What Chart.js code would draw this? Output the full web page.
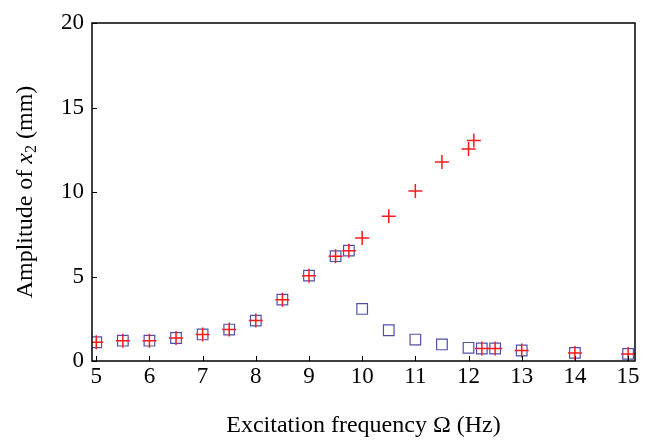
<!DOCTYPE html>
<html lang="en">
<head>
    <meta charset="UTF-8">
    <title>Amplitude of x2</title>
    <script src="https://cdn.jsdelivr.net/npm/chart.js"></script>
    <style>
        html, body { margin: 0; padding: 0; background: #fff; }
        #chartContainer { width: 652px; height: 440px; }
    </style>
</head>
<body>

<div id="chartContainer">
    <canvas id="ampChart"></canvas>
</div>

<script type="text/javascript">
    // frequencies (Hz) and amplitudes (mm)
    var blueFreq = [5, 5.5, 6, 6.5, 7, 7.5, 8, 8.5, 9, 9.5, 9.75, 10, 10.5, 11, 11.5, 12, 12.25, 12.5, 13, 14, 15];
    var blueAmp  = [1.11, 1.2, 1.2, 1.36, 1.57, 1.86, 2.39, 3.63, 5.05, 6.2, 6.53, 3.08, 1.82, 1.27, 0.98, 0.78, 0.74, 0.74, 0.62, 0.48, 0.42];
    var redFreq  = [5, 5.5, 6, 6.5, 7, 7.5, 8, 8.5, 9, 9.5, 9.75, 10, 10.5, 11, 11.5, 12, 12.1, 12.25, 12.5, 13, 14, 15];
    var redAmp   = [1.11, 1.2, 1.2, 1.36, 1.57, 1.86, 2.39, 3.63, 5.05, 6.2, 6.53, 7.28, 8.56, 10.06, 11.77, 12.54, 13.05, 0.74, 0.74, 0.62, 0.48, 0.42];
    var xTicks = [5, 6, 7, 8, 9, 10, 11, 12, 13, 14, 15];
    var yTicks = [0, 5, 10, 15, 20];

    var serif = 'Liberation Serif';

    function toPoints(xs, ys) {
        return xs.map(function (x, i) { return { x: x, y: ys[i] }; });
    }

    // frame box, inward tick marks and the y title (italic x with subscript)
    var framePlugin = {
        id: 'frame',
        afterDatasetsDraw: function (chart) {
            var ctx = chart.ctx;
            var a = chart.chartArea;
            var xs = chart.scales.x, ys = chart.scales.y;
            ctx.save();
            ctx.strokeStyle = '#000';
            ctx.lineWidth = 1.5;
            ctx.strokeRect(a.left, a.top, a.right - a.left, a.bottom - a.top);
            ctx.lineWidth = 1;
            ctx.beginPath();
            xTicks.forEach(function (v) {
                var px = Math.round(xs.getPixelForValue(v)) + 0.5;
                ctx.moveTo(px, a.bottom);
                ctx.lineTo(px, a.bottom - 5);
            });
            yTicks.forEach(function (v) {
                var py = Math.round(ys.getPixelForValue(v)) + 0.5;
                ctx.moveTo(a.left, py);
                ctx.lineTo(a.left + 5, py);
            });
            ctx.stroke();
            ctx.restore();
        },
        afterDraw: function (chart) {
            var ctx = chart.ctx;
            var a = chart.chartArea;
            var parts = [
                { t: 'Amplitude of ', f: '24px ' + serif, dy: 0 },
                { t: 'x', f: 'italic 24px ' + serif, dy: 0 },
                { t: '2', f: '16px ' + serif, dy: 6 },
                { t: ' (mm)', f: '24px ' + serif, dy: 0 }
            ];
            ctx.save();
            var total = 0;
            parts.forEach(function (p) { ctx.font = p.f; p.w = ctx.measureText(p.t).width; total += p.w; });
            ctx.translate(26, (a.top + a.bottom) / 2);
            ctx.rotate(-Math.PI / 2);
            ctx.fillStyle = '#000';
            ctx.textBaseline = 'middle';
            var x = -total / 2;
            parts.forEach(function (p) {
                ctx.font = p.f;
                ctx.fillText(p.t, x, p.dy);
                x += p.w;
            });
            ctx.restore();
        }
    };

    new Chart(document.getElementById('ampChart').getContext('2d'), {
        type: 'scatter',
        data: {
            datasets: [{
                label: 'sweep up',
                data: toPoints(redFreq, redAmp),
                pointStyle: 'cross',
                pointRadius: 7,
                pointBorderWidth: 1.5,
                borderColor: '#ff1a1a',
                backgroundColor: '#ff1a1a'
            }, {
                label: 'sweep down',
                data: toPoints(blueFreq, blueAmp),
                pointStyle: 'rect',
                pointRadius: 7.5,
                pointBorderWidth: 1.2,
                borderColor: '#5050ac',
                backgroundColor: 'rgba(0,0,0,0)'
            }]
        },
        options: {
            responsive: true,
            maintainAspectRatio: false,
            animation: false,
            events: [],
            layout: { padding: { left: 0, right: 17, top: 23, bottom: 0 } },
            plugins: { legend: { display: false }, tooltip: { enabled: false } },
            scales: {
                x: {
                    type: 'linear',
                    min: 4.92,
                    max: 15.13,
                    afterBuildTicks: function (s) { s.ticks = xTicks.map(function (v) { return { value: v }; }); },
                    afterFit: function (s) { s.height = 79; },
                    grid: { display: false, drawTicks: false },
                    border: { display: false },
                    ticks: { color: '#000', padding: 2, font: { family: serif, size: 23 } },
                    title: {
                        display: true,
                        text: 'Excitation frequency \u03A9 (Hz)',
                        color: '#000',
                        font: { family: serif, size: 24 },
                        padding: { top: 0, bottom: 0 }
                    }
                },
                y: {
                    min: 0,
                    max: 20,
                    afterBuildTicks: function (s) { s.ticks = yTicks.map(function (v) { return { value: v }; }); },
                    afterFit: function (s) { s.width = 92; },
                    grid: { display: false, drawTicks: false },
                    border: { display: false },
                    ticks: { color: '#000', padding: 8, font: { family: serif, size: 23 } }
                }
            }
        },
        plugins: [framePlugin]
    });
</script>

</body>
</html>
